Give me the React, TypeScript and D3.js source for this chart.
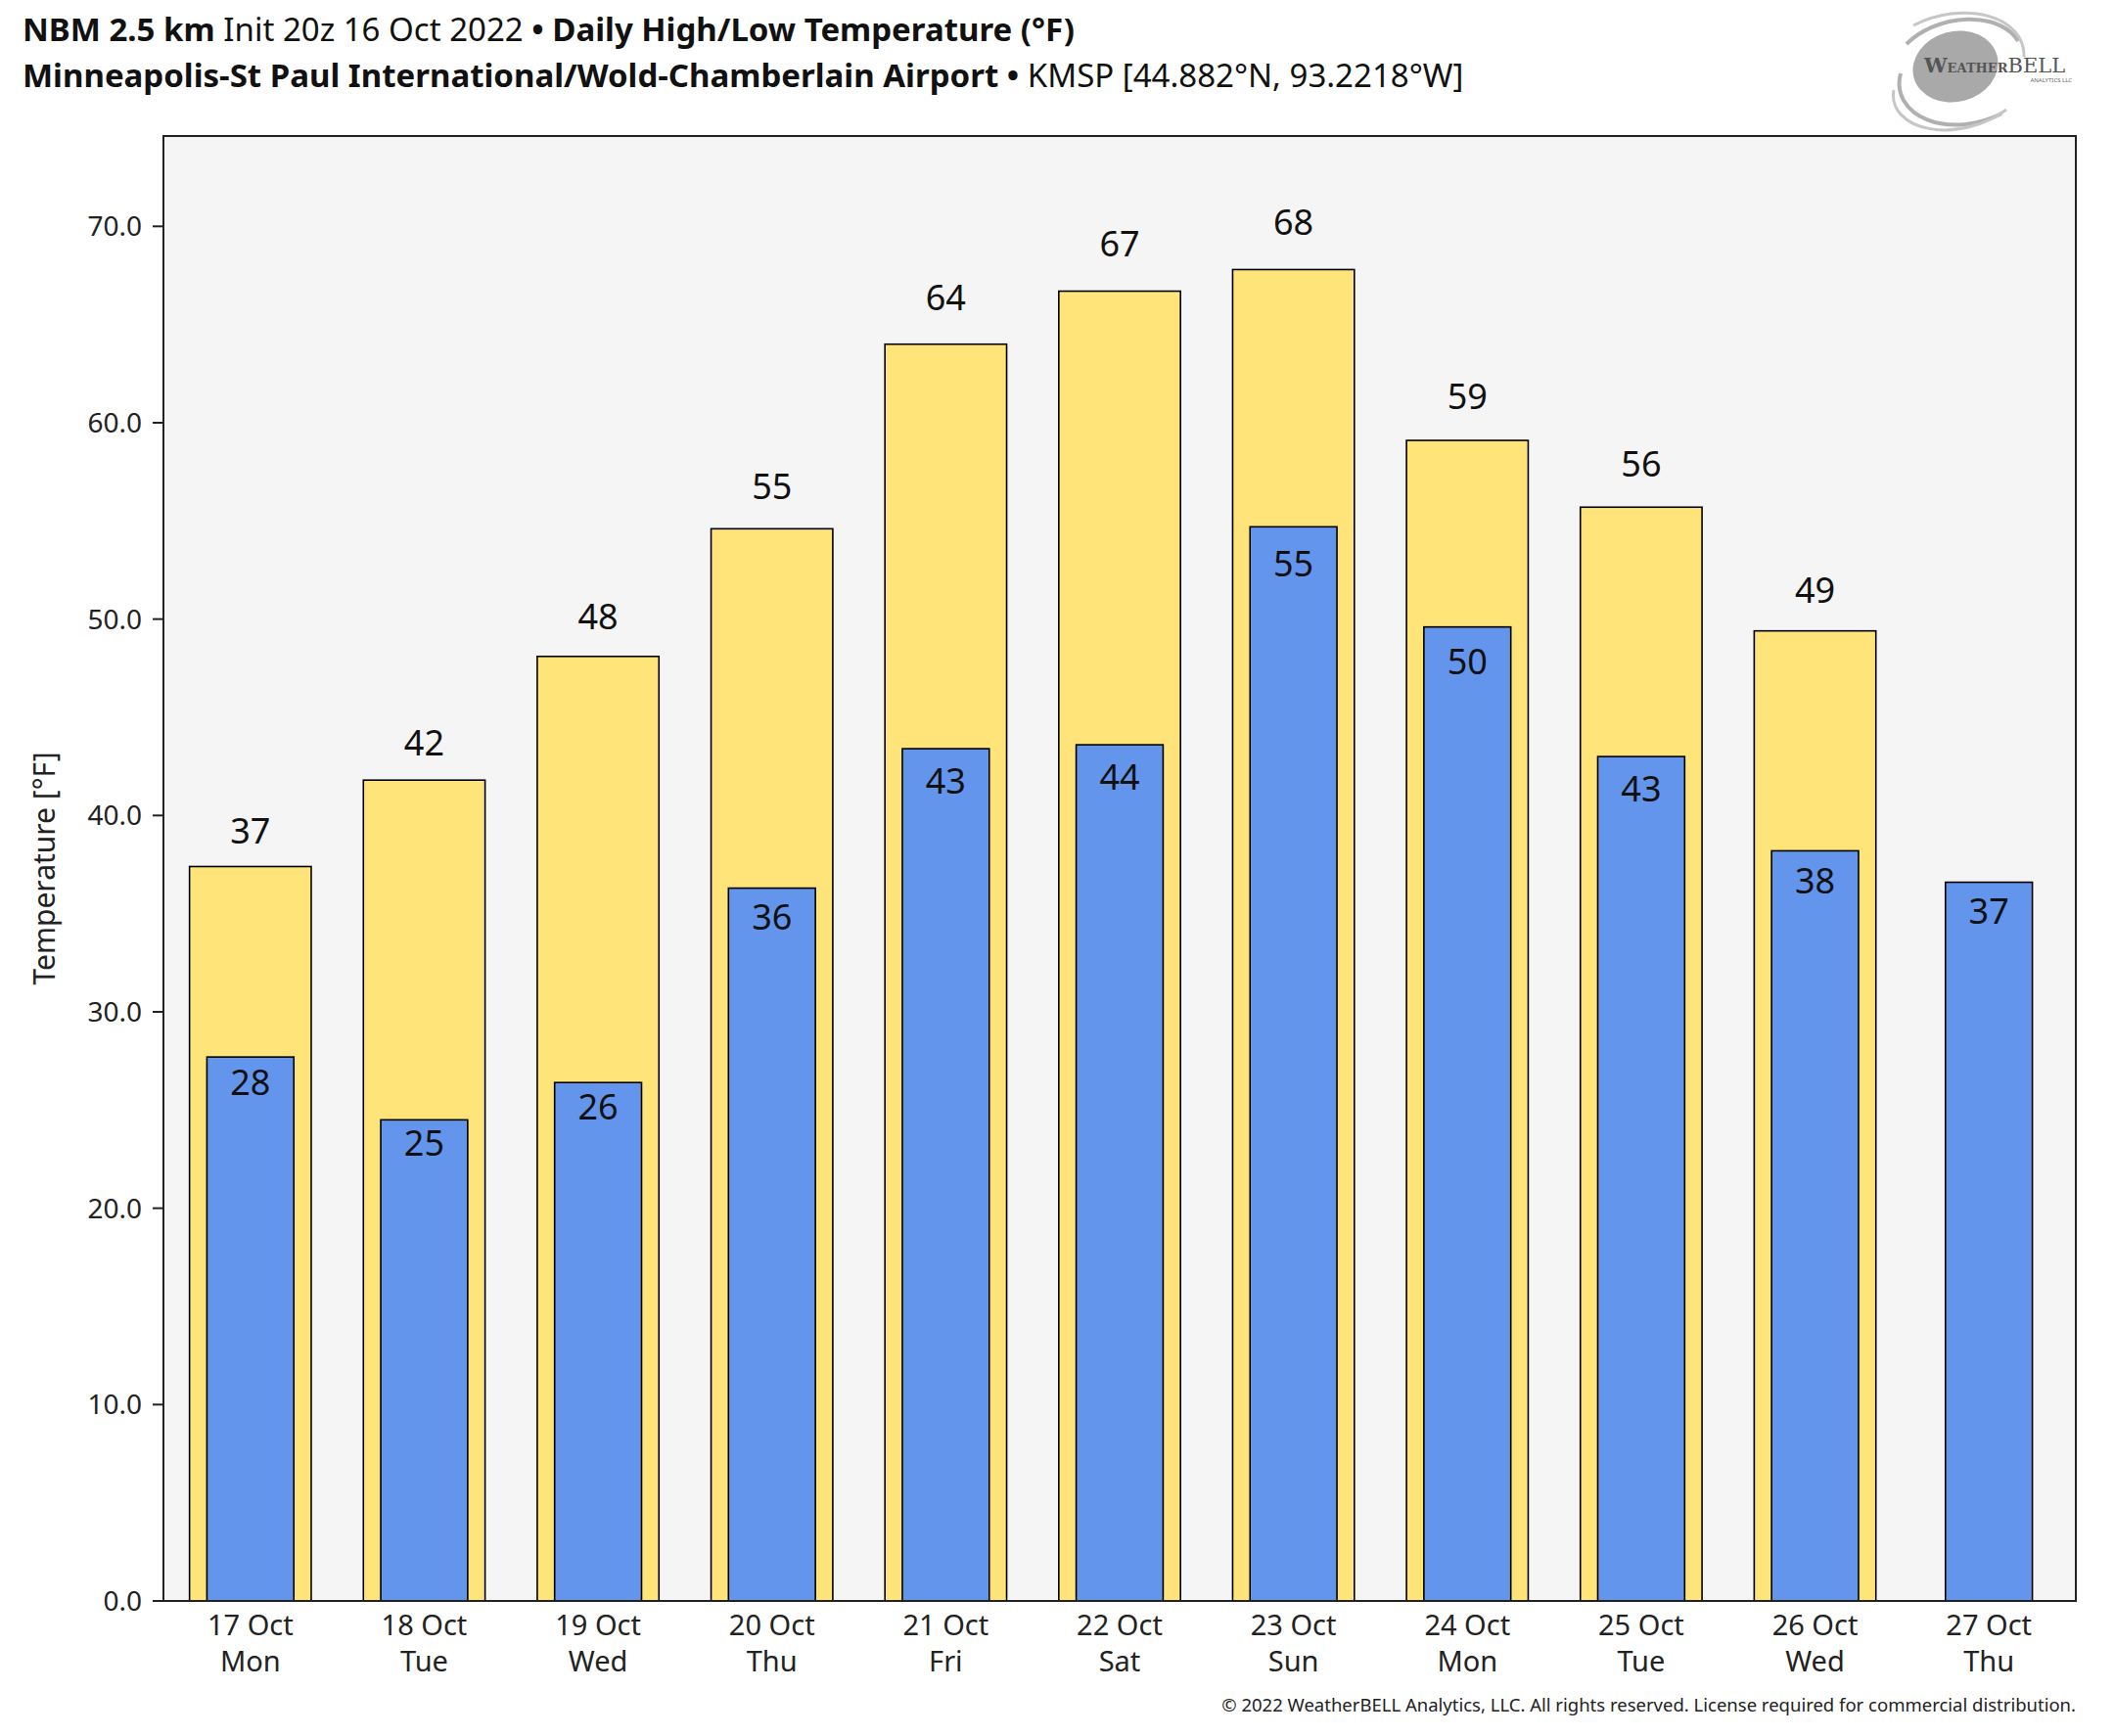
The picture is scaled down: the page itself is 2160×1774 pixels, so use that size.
import * as d3 from "d3";

// values (°F)
const days = ["17 Oct", "18 Oct", "19 Oct", "20 Oct", "21 Oct", "22 Oct", "23 Oct", "24 Oct", "25 Oct", "26 Oct", "27 Oct"];
const weekdays = ["Mon", "Tue", "Wed", "Thu", "Fri", "Sat", "Sun", "Mon", "Tue", "Wed", "Thu"];
const highs: (number | null)[] = [37.4, 41.8, 48.1, 54.6, 64.0, 66.7, 67.8, 59.1, 55.7, 49.4, null];
const lows: number[] = [27.7, 24.5, 26.4, 36.3, 43.4, 43.6, 54.7, 49.6, 43.0, 38.2, 36.6];
const yTicks = [0, 10, 20, 30, 40, 50, 60, 70];

const width = 2160;
const height = 1774;
const left = 167;
const right = 2121;
const top = 139;
const bottom = 1636;
const font = "'Noto Sans', 'Open Sans', sans-serif";

export default function App() {
    const x = d3.scaleBand<string>().domain(days).range([left, right]).padding(0);
    const y = d3.scaleLinear().domain([0, 74.6]).range([bottom, top]);
    const bw = x.bandwidth();
    const hiW = bw * 0.7;
    const loW = bw * 0.5;

    return (
        <svg width={width} height={height} style={{ position: "absolute", left: 0, top: 0 }} fontFamily={font}>
            <rect width={width} height={height} fill="white" />

            {/* titles */}
            <text x={23} y={42} fontSize={33} fill="#111">
                <tspan fontWeight="bold">NBM 2.5 km</tspan>
                <tspan> Init 20z 16 Oct 2022 </tspan>
                <tspan fontWeight="bold">• Daily High/Low Temperature (°F)</tspan>
            </text>
            <text x={23} y={89} fontSize={33} fill="#111">
                <tspan fontWeight="bold">Minneapolis-St Paul International/Wold-Chamberlain Airport •</tspan>
                <tspan> KMSP [44.882°N, 93.2218°W]</tspan>
            </text>

            {/* logo */}
            <g>
                <ellipse cx={1998} cy={68} rx={44} ry={36} fill="#a9a9a9" transform="rotate(-15 1998 68)" />
                <path d="M1948,45 A68,46 -15 0 1 2062,42" fill="none" stroke="#b0b0b0" strokeWidth={4} />
                <path d="M1942,75 A72,50 -15 0 0 2045,116" fill="none" stroke="#b0b0b0" strokeWidth={4} />
                <path d="M1955,26 A78,52 -15 0 1 2068,58" fill="none" stroke="#c6c6c6" strokeWidth={3} />
                <path d="M1935,92 A70,44 -15 0 0 2050,112" fill="none" stroke="#c6c6c6" strokeWidth={3} />
                <text x={1966} y={74} fontFamily="'DejaVu Serif', 'Liberation Serif', serif" fill="#555">
                    <tspan fontSize={21} fontWeight="bold">W</tspan>
                    <tspan fontSize={13} fontWeight="bold">EATHER</tspan>
                    <tspan fontSize={21}>BELL</tspan>
                </text>
                <text x={2117} y={84} fontSize={6} textAnchor="end" fill="#666">ANALYTICS LLC</text>
            </g>

            {/* plot area */}
            <rect x={left} y={top} width={right - left} height={bottom - top} fill="#f5f5f5" />

            {days.map((d, i) => {
                const cx = (x(d) ?? 0) + bw / 2;
                const hi = highs[i];
                const lo = lows[i];
                return (
                    <g key={d}>
                        {hi !== null && (
                            <>
                                <rect x={cx - hiW / 2} y={y(hi)} width={hiW} height={y(0) - y(hi)} fill="#ffe47a" stroke="#000" strokeWidth={1.6} />
                                <text x={cx} y={y(hi) - (8.8 + 0.4 * hi)} fontSize={36} textAnchor="middle" fill="#111">{Math.round(hi)}</text>
                            </>
                        )}
                        <rect x={cx - loW / 2} y={y(lo)} width={loW} height={y(0) - y(lo)} fill="#6495ed" stroke="#000" strokeWidth={1.6} />
                        <text x={cx} y={y(lo) + 25.8 + 0.46 * lo} fontSize={36} textAnchor="middle" fill="#111">{Math.round(lo)}</text>
                    </g>
                );
            })}

            {/* frame */}
            <rect x={left} y={top} width={right - left} height={bottom - top} fill="none" stroke="#222" strokeWidth={2} />

            {/* y axis */}
            {yTicks.map((t) => (
                <g key={t}>
                    <line x1={left - 11} x2={left} y1={y(t)} y2={y(t)} stroke="#222" strokeWidth={2} />
                    <text x={left - 22} y={y(t)} dy="0.36em" fontSize={28} textAnchor="end" fill="#222">{t.toFixed(1)}</text>
                </g>
            ))}
            <text transform={`translate(56, ${(top + bottom) / 2}) rotate(-90)`} fontSize={30} textAnchor="middle" fill="#222">Temperature [°F]</text>

            {/* x axis labels */}
            {days.map((d, i) => {
                const cx = (x(d) ?? 0) + bw / 2;
                return (
                    <text key={d} x={cx} fontSize={29} textAnchor="middle" fill="#222">
                        <tspan x={cx} y={1671}>{d}</tspan>
                        <tspan x={cx} y={1708}>{weekdays[i]}</tspan>
                    </text>
                );
            })}

            <text x={right} y={1749} fontSize={18.5} textAnchor="end" fill="#222">
                © 2022 WeatherBELL Analytics, LLC. All rights reserved. License required for commercial distribution.
            </text>
        </svg>
    );
}
